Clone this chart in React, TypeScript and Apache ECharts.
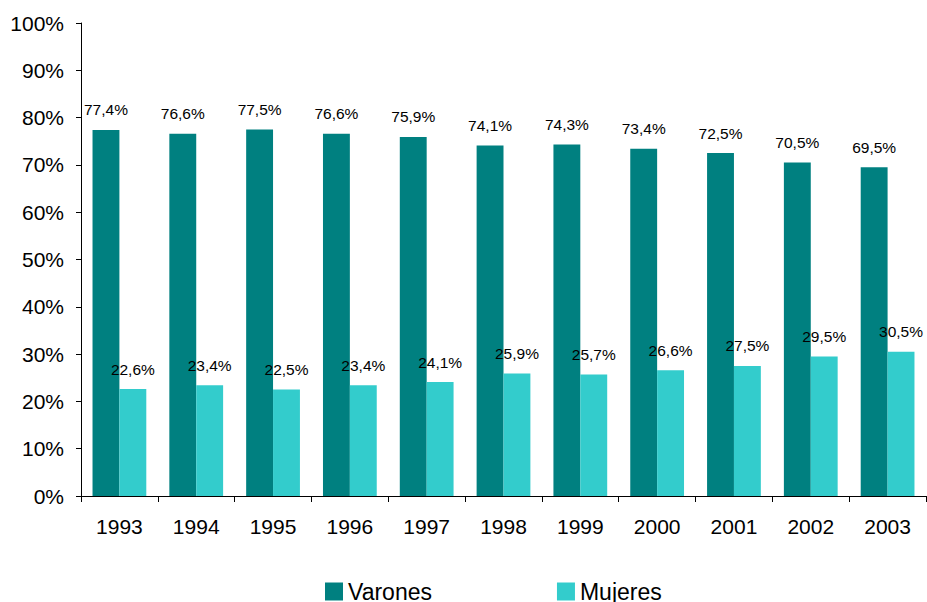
import React, { useEffect, useRef } from "react";
import * as echarts from "echarts";

const years = ["1993", "1994", "1995", "1996", "1997", "1998", "1999", "2000", "2001", "2002", "2003"];
const varones = [77.4, 76.6, 77.5, 76.6, 75.9, 74.1, 74.3, 73.4, 72.5, 70.5, 69.5];
const mujeres = [22.6, 23.4, 22.5, 23.4, 24.1, 25.9, 25.7, 26.6, 27.5, 29.5, 30.5];

const FONT = "'Liberation Sans', Arial, sans-serif";

const fmt = (p: any) => String(p.value.toFixed(1)).replace(".", ",") + "%";

export default function App() {
  const ref = useRef<HTMLDivElement>(null);
  useEffect(() => {
    const chart = echarts.init(ref.current!, null, { renderer: "svg" });
    chart.setOption({
      animation: false,
      backgroundColor: "#ffffff",
      textStyle: { fontFamily: FONT },
      grid: { left: 81, right: 1, top: 23, bottom: 106, containLabel: false },
      legend: {
        left: 325,
        top: 580,
        padding: 0,
        icon: "rect",
        itemWidth: 18,
        itemHeight: 18,
        itemGap: 125,
        textStyle: { fontSize: 23, color: "#000", fontFamily: FONT },
        data: ["Varones", "Mujeres"],
      },
      xAxis: {
        type: "category",
        data: years,
        axisLine: { lineStyle: { color: "#000", width: 1 } },
        axisTick: { show: true, length: 6, lineStyle: { color: "#000" } },
        axisLabel: { color: "#000", fontSize: 21, margin: 20, fontFamily: FONT },
      },
      yAxis: {
        type: "value",
        min: 0,
        max: 100,
        interval: 10,
        axisLine: { show: true, lineStyle: { color: "#000", width: 1 } },
        axisTick: { show: true, length: 5, lineStyle: { color: "#000" } },
        splitLine: { show: false },
        axisLabel: { color: "#000", fontSize: 21, margin: 17, formatter: "{value}%", fontFamily: FONT },
      },
      series: [
        {
          name: "Varones",
          type: "bar",
          data: varones,
          barGap: "0%",
          barCategoryGap: "30%",
          itemStyle: { color: "#008080" },
          label: { show: true, position: "top", distance: 12, fontSize: 15.5, color: "#000", formatter: fmt, fontFamily: FONT },
        },
        {
          name: "Mujeres",
          type: "bar",
          data: mujeres,
          barGap: "0%",
          barCategoryGap: "30%",
          itemStyle: { color: "#33CCCC" },
          label: { show: true, position: "top", distance: 12, fontSize: 15.5, color: "#000", formatter: fmt, fontFamily: FONT },
        },
      ],
    });
    return () => chart.dispose();
  }, []);
  return (
    <div
      ref={ref}
      style={{ position: "fixed", left: 0, top: 0, width: 927, height: 602, background: "#fff" }}
    />
  );
}
